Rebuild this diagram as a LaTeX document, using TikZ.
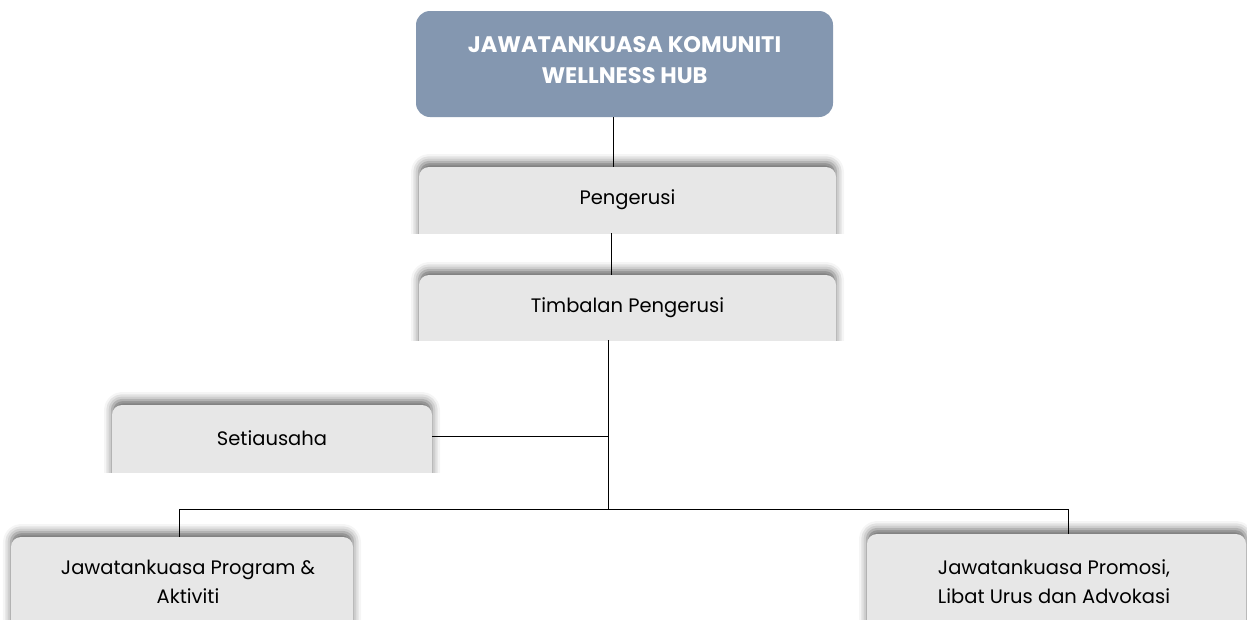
\documentclass[tikz,border=0pt]{standalone}
\usepackage{fontspec}
\setmainfont{Poppins}
\usetikzlibrary{shadows.blur}
\definecolor{topblue}{HTML}{8497B0}
\definecolor{boxgray}{HTML}{E7E7E7}
\newcommand\gboxbg[4]{%
  \begin{scope}
    \clip ({#1-30},{#2-30}) rectangle ({#3+30},#4);
    \fill[boxgray, rounded corners=10pt,
      blur shadow={shadow xshift=0pt, shadow yshift=5pt, shadow blur radius=8pt, shadow opacity=60}]
      (#1,{#4+30}) -- (#1,#2) -- (#3,#2) -- (#3,{#4+30}) -- cycle;
  \end{scope}}
\begin{document}
\begin{tikzpicture}[x=1pt,y=-1pt,
  boxnode/.style={rectangle, inner sep=0pt, align=center, font=\fontsize{19.5}{29}\selectfont},
  topnode/.style={rectangle, rounded corners=14pt, fill=topblue, inner sep=0pt, align=center,
     text=white, font=\bfseries\fontsize{22.5}{31}\selectfont},
  link/.style={draw=black, line width=0.9pt}]
\useasboundingbox (0,0) rectangle (1247,619);
% backgrounds
\gboxbg{419}{167}{836}{233}
\gboxbg{419}{275}{836}{340}
\gboxbg{112}{405}{432}{472}
\gboxbg{11}{537}{353}{619}
\gboxbg{867}{534}{1246}{619}
% nodes
\node[topnode, minimum width=417pt, minimum height=106pt] (top) at (624.5,64) {};
\node[text=white, font=\bfseries\fontsize{22.5}{31}\selectfont, align=center, inner sep=0pt] (toptext) at (624.5,60) {JAWATANKUASA KOMUNITI\\WELLNESS HUB};
\node[boxnode, minimum width=417pt, minimum height=66pt] (pen) at (627.5,200) {Pengerusi};
\node[boxnode, minimum width=417pt, minimum height=65pt] (tim) at (627.5,307.5) {Timbalan Pengerusi};
\node[boxnode, minimum width=320pt, minimum height=67pt] (set) at (272,438.5) {Setiausaha};
\node[boxnode, minimum width=342pt, minimum height=90pt] (prog) at (188,582) {Jawatankuasa Program \&\\Aktiviti};
\node[boxnode, minimum width=379pt, minimum height=96pt] (prom) at (1054,582) {Jawatankuasa Promosi,\\Libat Urus dan Advokasi};
\coordinate (bar) at (608,509);
\coordinate (midset) at (608,436);
% connectors
\draw[link] ([xshift=-11.5pt]top.south) -- ([xshift=-14.5pt]pen.north);
\draw[link] ([xshift=-16.5pt]pen.south) -- ([xshift=-16.5pt]tim.north);
\draw[link] ([xshift=-19.5pt]tim.south) -- (bar);
\draw[link] (set.east |- midset) -- (midset);
\draw[link] (prog.north -| 179,0) -- (179,509) -- (1068,509) -- (prom.north -| 1068,0);
\end{tikzpicture}
\end{document}
